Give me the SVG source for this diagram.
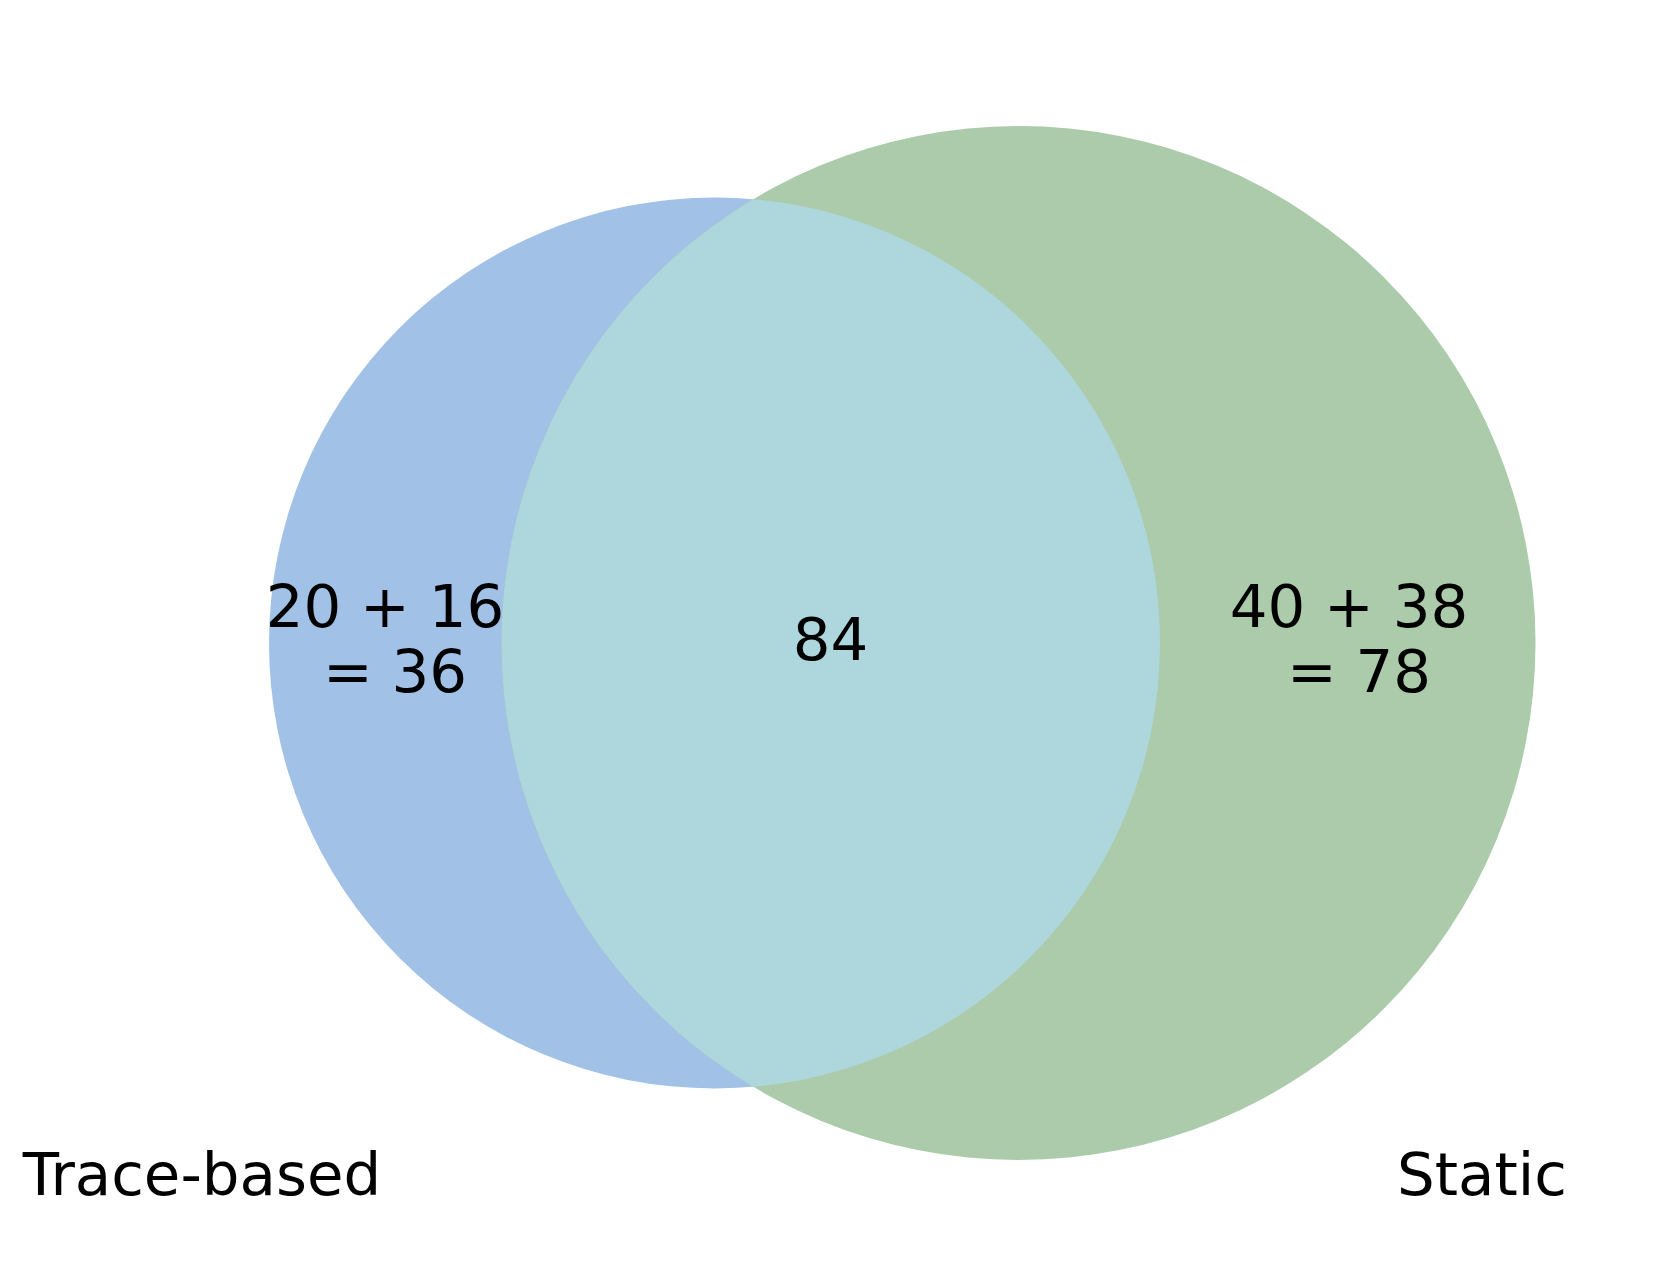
<svg xmlns="http://www.w3.org/2000/svg" width="1662" height="1287" viewBox="0 0 1662 1287">
  <style>
    text { font-family: "DejaVu Sans", "Liberation Sans", sans-serif; font-size: 59.4px; fill: #000000; text-anchor: middle; }
  </style>
  <defs>
    <clipPath id="clipRight">
      <circle cx="1018.5" cy="643" r="517"/>
    </clipPath>
  </defs>
  <rect width="1662" height="1287" fill="#ffffff"/>
  <g id="set-trace-based">
    <circle cx="714.5" cy="643" r="445.5" fill="#a1c1e6"/>
  </g>
  <g id="set-static">
    <circle cx="1018.5" cy="643" r="517" fill="#abcbab"/>
  </g>
  <g id="intersection">
    <circle cx="714.5" cy="643" r="445.5" fill="#add7dd" clip-path="url(#clipRight)"/>
  </g>
  <g id="label-trace-only">
    <text x="385" y="627">20 + 16</text>
    <text x="395" y="692">= 36</text>
  </g>
  <g id="label-both">
    <text x="830.5" y="660">84</text>
  </g>
  <g id="label-static-only">
    <text x="1349" y="627">40 + 38</text>
    <text x="1359" y="692">= 78</text>
  </g>
  <g id="title-trace-based">
    <text x="202" y="1195">Trace-based</text>
  </g>
  <g id="title-static">
    <text x="1482" y="1195">Static</text>
  </g>
</svg>
